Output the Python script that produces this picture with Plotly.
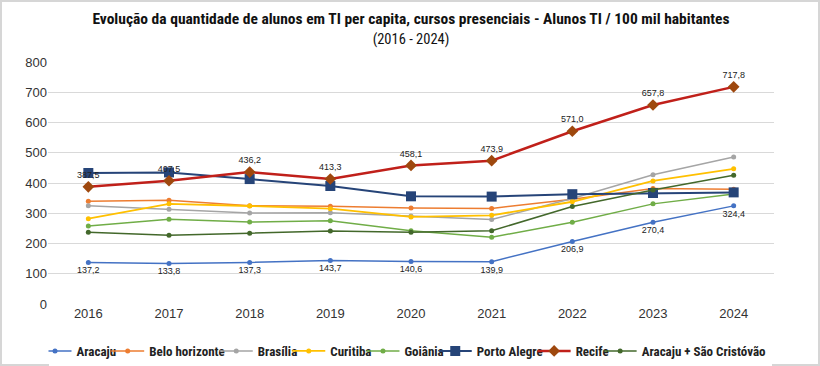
import plotly.graph_objects as go

years = ["2016", "2017", "2018", "2019", "2020", "2021", "2022", "2023", "2024"]

aracaju = [137.2, 133.8, 137.3, 143.7, 140.6, 139.9, 206.9, 270.4, 324.4]
belo_horizonte = [340, 343, 325, 323, 317, 316, 346, 382, 379]
brasilia = [325, 313, 301, 302, 291, 279, 349, 427, 486]
curitiba = [282, 331, 324, 315, 288, 293, 338, 407, 447]
goiania = [258, 280, 271, 275, 242, 221, 270, 331, 364]
porto_alegre = [433, 435, 413, 390, 356, 355, 363, 367, 369]
recife = [387.5, 407.5, 436.2, 413.3, 458.1, 473.9, 571.0, 657.8, 717.8]
aracaju_sc = [237, 227, 234, 241, 237, 242, 322, 377, 426]

def fmt(v):
    return f"{v:.1f}".replace(".", ",")

label_font = dict(family="Liberation Sans, Arial, sans-serif", size=9, color="#222222")
narrow = "Liberation Sans Narrow, Roboto Condensed, Arial Narrow, sans-serif"

fig = go.Figure()

series = [
    ("Aracaju", aracaju, "#4472C4", "#4472C4", "circle", 5, 1.5),
    ("Belo horizonte", belo_horizonte, "#ED7D31", "#ED7D31", "circle", 5, 1.5),
    ("Brasília", brasilia, "#A5A5A5", "#A5A5A5", "circle", 5, 1.5),
    ("Curitiba", curitiba, "#FFC000", "#FFC000", "circle", 5, 1.8),
    ("Goiânia", goiania, "#70AD47", "#70AD47", "circle", 5, 1.5),
    ("Porto Alegre", porto_alegre, "#264478", "#264478", "square", 10, 2),
    ("Recife", recife, "#C0201A", "#9E480E", "diamond", 9, 2.5),
    ("Aracaju + São Cristóvão", aracaju_sc, "#43682B", "#43682B", "circle", 5, 1.5),
]

for name, vals, lc, mc, sym, ms, lw in series:
    if name == "Aracaju":
        kw = dict(mode="lines+markers+text", text=[fmt(v) for v in vals],
                  textposition="bottom center", textfont=label_font)
    elif name == "Recife":
        kw = dict(mode="lines+markers+text", text=[fmt(v) for v in vals],
                  textposition="top center", textfont=label_font)
    else:
        kw = dict(mode="lines+markers")
    fig.add_trace(go.Scatter(
        x=years, y=vals, name="<b>" + name + "</b>",
        line=dict(color=lc, width=lw),
        marker=dict(color=mc, symbol=sym, size=ms),
        **kw
    ))

fig.update_layout(
    width=820, height=366,
    margin=dict(l=48, r=46, t=62, b=62),
    paper_bgcolor="white",
    plot_bgcolor="white",
    title=dict(
        text="<b>Evolução da quantidade de alunos em TI per capita, cursos presenciais - Alunos TI / 100 mil habitantes</b><br><span style='font-size:14.5px'>(2016 - 2024)</span>",
        x=0.5, xanchor="center", xref="paper", y=0.935, yanchor="top", yref="container",
        font=dict(family=narrow, size=15.5, color="#111111"),
    ),
    xaxis=dict(
        type="category", range=[-0.5, 8.5], showgrid=False, showline=False,
        zeroline=False, ticks="", automargin=False,
        tickfont=dict(family="Liberation Sans, Arial, sans-serif", size=13, color="#333333"),
    ),
    yaxis=dict(
        range=[0, 800], dtick=100, showgrid=True, gridcolor="#D9D9D9", gridwidth=1,
        zeroline=False, showline=False, ticks="", automargin=False,
        tickfont=dict(family="Liberation Sans, Arial, sans-serif", size=13, color="#333333"),
    ),
    legend=dict(
        orientation="h", xref="container", x=0.5, xanchor="center",
        yref="container", y=15 / 366, yanchor="middle",
        font=dict(family=narrow, size=13, color="#222222"),
        itemwidth=33, indentation=-15, traceorder="normal", tracegroupgap=0,
    ),
    showlegend=True,
)

# light frame around the whole image
fig.add_shape(type="rect", xref="paper", yref="paper",
              x0=-47/726, x1=1 + 45/726, y0=-61/242, y1=1 + 61/242,
              line=dict(color="#D6D6D6", width=2), fillcolor="rgba(0,0,0,0)", layer="below")

fig.write_html("out.html", config={"displayModeBar": False},
               post_script="document.body.style.margin='0';")
